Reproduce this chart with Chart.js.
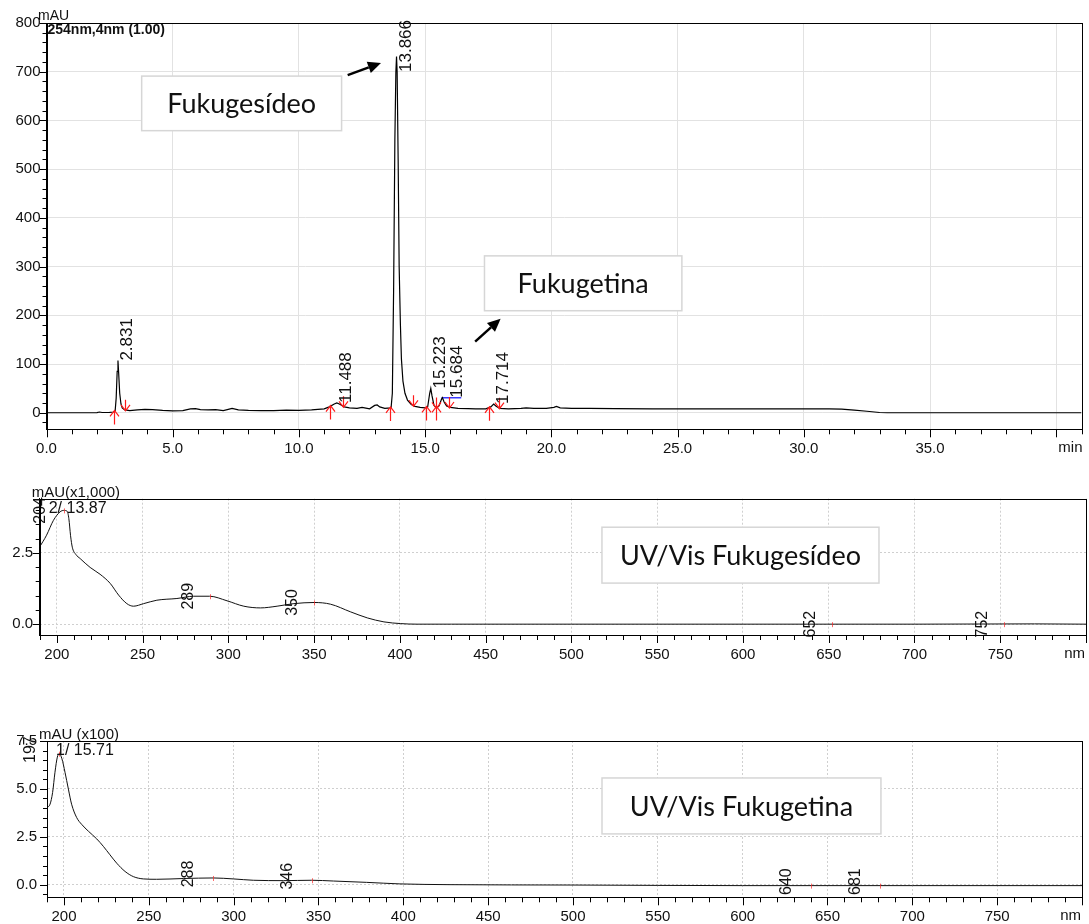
<!DOCTYPE html>
<html>
<head>
<meta charset="utf-8">
<script src="https://cdn.jsdelivr.net/npm/chart.js@4.4.1/dist/chart.umd.min.js"></script>
<style>
  html, body { margin: 0; padding: 0; background: #fff; }
  #wrap { position: relative; width: 1089px; height: 924px; overflow: hidden; background: #fff; }
  #wrap canvas { position: absolute; left: 0; top: 0; }
</style>
</head>
<body>
<div id="wrap">
  <canvas id="chromChart" width="1089" height="924"></canvas>
  <canvas id="uvGesideoChart" width="1089" height="924"></canvas>
  <canvas id="uvGetinaChart" width="1089" height="924"></canvas>
</div>
<script>
// --- chromatogram 254 nm (min / mAU) ---
const chromTime = [0, 1.0, 2.0, 2.1, 2.2, 2.5, 2.65, 2.72, 2.76, 2.8, 2.831, 2.86, 2.9, 2.95, 3.0, 3.1, 3.3, 3.6, 3.9, 4.2,
  4.6, 5.0, 5.4, 5.7, 5.9, 6.1, 6.4, 6.7, 7.0, 7.2, 7.35, 7.6, 8.0, 8.5, 9.0, 9.5, 10.0, 10.5, 11.0, 11.2,
  11.4, 11.5, 11.6, 11.8, 12.0, 12.3, 12.5, 12.6, 12.8, 13.0, 13.1, 13.2, 13.4, 13.65, 13.7, 13.75, 13.8, 13.84, 13.866, 13.89,
  13.93, 13.97, 14.02, 14.06, 14.12, 14.2, 14.3, 14.45, 14.6, 14.8, 15.0, 15.1, 15.18, 15.223, 15.27, 15.35, 15.45, 15.55, 15.65, 15.684,
  15.75, 15.85, 16.0, 16.3, 16.7, 17.0, 17.4, 17.6, 17.714, 17.8, 17.95, 18.3, 18.8, 19.0, 19.3, 19.8, 20.1, 20.2, 20.35, 20.8,
  21.5, 22.5, 24, 26, 28, 30, 31, 31.5, 32, 32.5, 33.0, 33.3, 41];
const chromAbs = [0, 0, 0.3, 1.5, 0.5, 0.8, 1.5, 4, 30, 85, 107, 80, 40, 18, 10, 6, 4.5, 6, 7, 6.5,
  5, 4, 4.5, 8, 8.5, 6.5, 6, 6.5, 4.5, 7, 9, 6, 5, 4.5, 4.5, 5.5, 5, 6, 8, 12,
  18, 20, 18, 12, 10, 9, 11, 10, 8, 15, 16, 12, 9, 10, 40, 250, 560, 700, 731, 700,
  520, 300, 180, 110, 65, 40, 26, 17, 13, 11, 10, 12, 40, 50, 35, 15, 10, 14, 28, 31,
  22, 14, 11, 9, 8.5, 8, 8, 12, 18, 14, 9, 8, 9, 10, 9, 9, 11, 13, 10, 9,
  9, 8.5, 8, 8, 8, 8, 8, 7.5, 5.5, 3, 0.5, 0, 0];
const peakTimes = [2.831, 11.488, 13.866, 15.223, 15.684, 17.714];
const peakHeights = [107, 20, 731, 50, 31, 18];
const startMarks = [2.68, 11.22, 13.6, 15.04, 15.43, 17.51];
const endMarks = [3.1, 11.76, 14.52, 15.43, 15.96, 17.91];
const dropTime = [15.65, 16.43];
const dropAbs = [31, 31];

// --- UV/Vis spectrum, Fukugesídeo (nm / mAU x1000) ---
const uv1Nm = [190, 194, 198, 201.9, 204, 206, 207, 208, 209, 211, 213.6, 219.4, 225.2, 231.1, 236, 240.8, 244.7, 250.6, 258.3, 270,
  279.8, 289, 299.2, 309, 318.7, 328.4, 338.2, 350, 359.6, 371.3, 381, 390.7, 400.5, 410, 430, 500, 600, 700, 770, 800];
const uv1Abs = [2.71, 3.12, 3.64, 3.94, 3.99, 3.96, 3.7, 3.1, 2.7, 2.45, 2.3, 1.99, 1.75, 1.43, 1.02, 0.72, 0.63, 0.72, 0.84, 0.9,
  0.98, 0.98, 0.82, 0.63, 0.57, 0.63, 0.72, 0.76, 0.7, 0.43, 0.22, 0.08, 0.02, 0.0, 0.0, 0.0, 0.0, 0.0, 0.01, 0.0];
const uv1PeakNm = [204, 289, 350, 652, 752];
const uv1PeakAbs = [3.99, 0.98, 0.76, 0.0, 0.0];

// --- UV/Vis spectrum, Fukugetina (nm / mAU x100) ---
const uv2Nm = [190, 191.8, 193.3, 194.7, 196.1, 197.3, 198.8, 200.6, 202.6, 204.5, 207.5, 210.4, 214.4, 219.3, 223.2, 227.1, 231.1, 236, 240.9, 246.8,
  254.6, 270.4, 288, 299.8, 311.6, 329.3, 346, 358.8, 378.4, 398, 427.5, 500, 600, 700, 800];
const uv2Abs = [4.02, 4.2, 4.81, 5.87, 6.66, 6.84, 6.57, 5.87, 4.99, 4.2, 3.5, 3.15, 2.79, 2.39, 2.0, 1.56, 1.12, 0.69, 0.42, 0.3,
  0.28, 0.32, 0.35, 0.3, 0.23, 0.21, 0.23, 0.19, 0.12, 0.04, 0.0, -0.02, -0.05, -0.05, -0.05];
const uv2PeakNm = [197, 288, 346, 640, 681];
const uv2PeakAbs = [6.84, 0.35, 0.23, -0.05, -0.05];

const FONT = '"Liberation Sans", Arial, sans-serif';
const BOX_FONT = '27px Lato, "Open Sans", sans-serif';
const W = 1089, H = 924;

function isMultiple(v, m) {
    return Math.abs(v / m - Math.round(v / m)) < 1e-6;
}

function makeTicks(min, max, step) {
    const out = [];
    for (let i = Math.ceil(min / step - 1e-9); i * step <= max + 1e-9; i++) {
        out.push(Math.round(i * step * 1000) / 1000);
    }
    return out;
}

function valueAt(xs, ys, t) {
    for (let i = 1; i < xs.length; i++) {
        if (t <= xs[i]) {
            const f = (t - xs[i - 1]) / (xs[i] - xs[i - 1]);
            return ys[i - 1] + f * (ys[i] - ys[i - 1]);
        }
    }
    return ys[ys.length - 1];
}

function toPoints(xs, ys) {
    return xs.map((v, i) => ({ x: v, y: ys[i] }));
}

/**
 * Options des axes : cadre fixe (gauche, droite, haut, bas) en pixels.
 */
function buildOptions(c) {
    const noLine = 'rgba(0,0,0,0)';
    return {
        responsive: false,
        animation: false,
        layout: { padding: { left: 0, top: c.top, right: W - c.right, bottom: 0 } },
        plugins: { legend: { display: false }, tooltip: { enabled: false }, tickMarks: { xMajor: c.xMajor, yMajor: c.yMajor } },
        elements: { point: { radius: 0 } },
        scales: {
            x: {
                type: 'linear', min: c.xMin, max: c.xMax,
                afterBuildTicks: s => { s.ticks = makeTicks(c.xMin, c.xMax, c.xStep).map(v => ({ value: v })); },
                afterFit: s => { s.height = H - c.bottom; s.paddingLeft = 0; s.paddingRight = 0; },
                ticks: {
                    autoSkip: false, maxRotation: 0, minRotation: 0, padding: 11, color: '#111',
                    font: { family: FONT, size: 15 },
                    callback: v => (isMultiple(v, c.xMajor) && v >= c.xLabelMin && v <= c.xLabelMax) ? c.xFormat(v) : ''
                },
                grid: {
                    drawTicks: false, lineWidth: 1,
                    color: ctx => (ctx.tick && isMultiple(ctx.tick.value, c.xMajor) && ctx.tick.value > c.xMin) ? c.gridColor : noLine
                },
                border: { display: true, color: '#000', width: 1, dash: c.gridDash }
            },
            y: {
                type: 'linear', min: c.yMin, max: c.yMax,
                afterBuildTicks: s => { s.ticks = makeTicks(c.yMin, c.yMax, c.yStep).map(v => ({ value: v })); },
                afterFit: s => { s.width = c.left; s.paddingTop = 0; s.paddingBottom = 0; },
                ticks: {
                    autoSkip: false, padding: c.yPad, color: '#111',
                    font: { family: FONT, size: 15 },
                    callback: v => isMultiple(v, c.yMajor) ? c.yFormat(v) : ''
                },
                grid: {
                    drawTicks: false, lineWidth: 1,
                    color: ctx => (ctx.tick && isMultiple(ctx.tick.value, c.yMajor)) ? c.gridColor : noLine
                },
                border: { display: true, color: '#000', width: 1, dash: c.gridDash }
            }
        }
    };
}

// petites et grandes graduations + cadre du tracé
const tickMarks = {
    id: 'tickMarks',
    afterDraw(chart, args, o) {
        const { ctx, chartArea: a } = chart;
        const { x, y } = chart.scales;
        ctx.save();
        ctx.strokeStyle = '#000';
        ctx.lineWidth = 1;
        ctx.beginPath();
        x.ticks.forEach(t => {
            const p = Math.round(x.getPixelForValue(t.value)) + 0.5;
            const len = isMultiple(t.value, o.xMajor) ? 8 : 5;
            ctx.moveTo(p, a.bottom); ctx.lineTo(p, a.bottom + len);
        });
        y.ticks.forEach(t => {
            const p = Math.round(y.getPixelForValue(t.value)) + 0.5;
            const len = isMultiple(t.value, o.yMajor) ? 7 : 4;
            ctx.moveTo(a.left, p); ctx.lineTo(a.left - len, p);
        });
        ctx.stroke();
        ctx.strokeRect(Math.round(a.left) + 0.5, Math.round(a.top) + 0.5, Math.round(a.right - a.left), Math.round(a.bottom - a.top));
        ctx.restore();
    }
};

function drawCallout(chart, box, text) {
    const { ctx, scales: { x, y } } = chart;
    const l = x.getPixelForValue(box[0]), r = x.getPixelForValue(box[1]);
    const t = y.getPixelForValue(box[2]), b = y.getPixelForValue(box[3]);
    ctx.fillStyle = '#fff';
    ctx.fillRect(l, t, r - l, b - t);
    ctx.strokeStyle = '#d6d6d6';
    ctx.lineWidth = 1.5;
    ctx.strokeRect(l, t, r - l, b - t);
    ctx.fillStyle = '#111';
    ctx.font = BOX_FONT;
    ctx.textAlign = 'center';
    ctx.textBaseline = 'middle';
    ctx.fillText(text, (l + r) / 2, (t + b) / 2 + 1);
}

function drawArrow(chart, from, to) {
    const { ctx, scales: { x, y } } = chart;
    const x1 = x.getPixelForValue(from[0]), y1 = y.getPixelForValue(from[1]);
    const x2 = x.getPixelForValue(to[0]), y2 = y.getPixelForValue(to[1]);
    const ang = Math.atan2(y2 - y1, x2 - x1), hl = 13, hw = 6;
    const bx = x2 - hl * Math.cos(ang), by = y2 - hl * Math.sin(ang);
    ctx.strokeStyle = '#000';
    ctx.fillStyle = '#000';
    ctx.lineWidth = 2.5;
    ctx.beginPath(); ctx.moveTo(x1, y1); ctx.lineTo(bx, by); ctx.stroke();
    ctx.beginPath();
    ctx.moveTo(x2, y2);
    ctx.lineTo(bx - hw * Math.sin(ang), by + hw * Math.cos(ang));
    ctx.lineTo(bx + hw * Math.sin(ang), by - hw * Math.cos(ang));
    ctx.closePath(); ctx.fill();
}

function drawText(ctx, text, px, py, font, align, base) {
    ctx.font = font;
    ctx.fillStyle = '#111';
    ctx.textAlign = align || 'left';
    ctx.textBaseline = base || 'alphabetic';
    ctx.fillText(text, px, py);
}

// --- chromatogramme ---
const chromDecor = {
    id: 'chromDecor',
    afterDatasetsDraw(chart) {
        const { ctx, chartArea: a, scales: { x, y } } = chart;
        ctx.save();

        // marqueurs d'intégration (rouges)
        ctx.strokeStyle = '#ff1a1a';
        ctx.lineWidth = 1.2;
        ctx.beginPath();
        startMarks.forEach(t => {
            const px = Math.round(x.getPixelForValue(t)) + 0.5;
            const py = y.getPixelForValue(valueAt(chromTime, chromAbs, t)) - 1;
            ctx.moveTo(px, py); ctx.lineTo(px, py + 14);
            ctx.moveTo(px - 4.5, py + 6); ctx.lineTo(px, py); ctx.lineTo(px + 4.5, py + 6);
        });
        endMarks.forEach(t => {
            const px = Math.round(x.getPixelForValue(t)) + 0.5;
            const py = y.getPixelForValue(valueAt(chromTime, chromAbs, t)) + 1;
            ctx.moveTo(px, py - 11); ctx.lineTo(px, py);
            ctx.moveTo(px - 4.5, py - 6); ctx.lineTo(px, py); ctx.lineTo(px + 4.5, py - 6);
        });
        ctx.stroke();

        // temps de rétention (décalés vers la droite s'ils se chevauchent)
        const labelFont = '17px ' + FONT;
        const glyph = 12.5;
        ctx.font = labelFont;
        let prevRight = -Infinity;
        peakTimes.forEach((t, i) => {
            const label = t.toFixed(3);
            const w = ctx.measureText(label).width;
            let px = x.getPixelForValue(t) + 14;
            if (px - glyph < prevRight + 5) px = prevRight + 5 + glyph;
            prevRight = px;
            const py = Math.max(y.getPixelForValue(peakHeights[i]), a.top - 3 + w);
            ctx.save();
            ctx.translate(px, py);
            ctx.rotate(-Math.PI / 2);
            drawText(ctx, label, 0, 0, labelFont, 'left', 'alphabetic');
            ctx.restore();
        });

        drawCallout(chart, [3.77, 11.69, 691, 579], 'Fukugesídeo');
        drawCallout(chart, [17.35, 25.17, 322, 209.4], 'Fukugetina');
        drawArrow(chart, [11.93, 693], [13.25, 718]);
        drawArrow(chart, [16.98, 146], [17.99, 193]);

        drawText(ctx, 'mAU', a.left - 8.5, a.top - 3, '14px ' + FONT);
        drawText(ctx, '254nm,4nm (1.00)', a.left + 1, a.top + 11, 'bold 14px ' + FONT);
        drawText(ctx, 'min', a.right + 1, a.bottom + 11, '15px ' + FONT, 'right', 'top');
        ctx.restore();
    }
};

new Chart(document.getElementById('chromChart').getContext('2d'), {
    type: 'line',
    data: {
        datasets: [
            { data: toPoints(chromTime, chromAbs), borderColor: '#000', borderWidth: 1.2, tension: 0 },
            { data: toPoints(dropTime, dropAbs), borderColor: '#3a3aff', borderWidth: 1.5, tension: 0 }
        ]
    },
    options: buildOptions({
        left: 46.5, right: 1081.5, top: 23, bottom: 429.3,
        xMin: 0, xMax: 41, xStep: 1, xMajor: 5, xLabelMin: 0, xLabelMax: 35, xFormat: v => v.toFixed(1),
        yMin: -34, yMax: 800, yStep: 20, yMajor: 100, yFormat: v => String(v), yPad: 6,
        gridColor: '#e2e2e2', gridDash: []
    }),
    plugins: [tickMarks, chromDecor]
});

// --- spectres UV/Vis ---
function uvDecor(id, peakNm, peakAbs, gaps, labelLift, unitText, infoText, boxRange, boxText) {
    return {
        id: id,
        afterDatasetsDraw(chart) {
            const { ctx, chartArea: a, scales: { x, y } } = chart;
            ctx.save();
            peakNm.forEach((nm, i) => {
                const px = x.getPixelForValue(nm);
                const py = y.getPixelForValue(peakAbs[i]);
                ctx.strokeStyle = 'rgba(255,40,40,0.7)';
                ctx.lineWidth = 1;
                ctx.beginPath();
                ctx.moveTo(Math.round(px) + 0.5, py - 2); ctx.lineTo(Math.round(px) + 0.5, py + 3);
                ctx.stroke();
                ctx.save();
                ctx.translate(px - gaps[i], py - labelLift);
                ctx.rotate(-Math.PI / 2);
                drawText(ctx, String(nm), 0, 0, '16px ' + FONT, 'center', 'alphabetic');
                ctx.restore();
            });
            drawCallout(chart, boxRange, boxText);
            drawText(ctx, unitText, a.left - 8, a.top - 2, '15px ' + FONT);
            drawText(ctx, infoText, a.left + 9, a.top + 14, '16px ' + FONT);
            drawText(ctx, 'nm', a.right - 1, a.bottom + 11, '15px ' + FONT, 'right', 'top');
            ctx.restore();
        }
    };
}

new Chart(document.getElementById('uvGesideoChart').getContext('2d'), {
    type: 'line',
    data: {
        datasets: [
            { data: toPoints(uv1Nm, uv1Abs), borderColor: '#111', borderWidth: 1, cubicInterpolationMode: 'monotone' }
        ]
    },
    options: buildOptions({
        left: 39.7, right: 1086, top: 498.7, bottom: 635,
        xMin: 190, xMax: 800, xStep: 10, xMajor: 50, xLabelMin: 200, xLabelMax: 750, xFormat: v => String(v),
        yMin: -0.38, yMax: 4.4, yStep: 0.5, yMajor: 2.5, yFormat: v => v.toFixed(1), yPad: 6.5,
        gridColor: '#cfcfcf', gridDash: [2, 2]
    }),
    plugins: [tickMarks, uvDecor('uv1Decor', uv1PeakNm, uv1PeakAbs, [19, 17, 17, 17, 17], 0,
        'mAU(x1,000)', '2/ 13.87', [517.8, 679.3, 3.40, 1.44], 'UV/Vis Fukugesídeo')]
});

new Chart(document.getElementById('uvGetinaChart').getContext('2d'), {
    type: 'line',
    data: {
        datasets: [
            { data: toPoints(uv2Nm, uv2Abs), borderColor: '#111', borderWidth: 1, cubicInterpolationMode: 'monotone' }
        ]
    },
    options: buildOptions({
        left: 47, right: 1082, top: 741, bottom: 897.3,
        xMin: 190, xMax: 800, xStep: 10, xMajor: 50, xLabelMin: 200, xLabelMax: 750, xFormat: v => String(v),
        yMin: -0.66, yMax: 7.5, yStep: 0.5, yMajor: 2.5, yFormat: v => v.toFixed(1), yPad: 10,
        gridColor: '#cfcfcf', gridDash: [2, 2]
    }),
    plugins: [tickMarks, uvDecor('uv2Decor', uv2PeakNm, uv2PeakAbs, [24, 20, 20, 20, 20], 4,
        'mAU (x100)', '1/ 15.71', [517.1, 681.5, 5.57, 2.65], 'UV/Vis Fukugetina')]
});
</script>
</body>
</html>
